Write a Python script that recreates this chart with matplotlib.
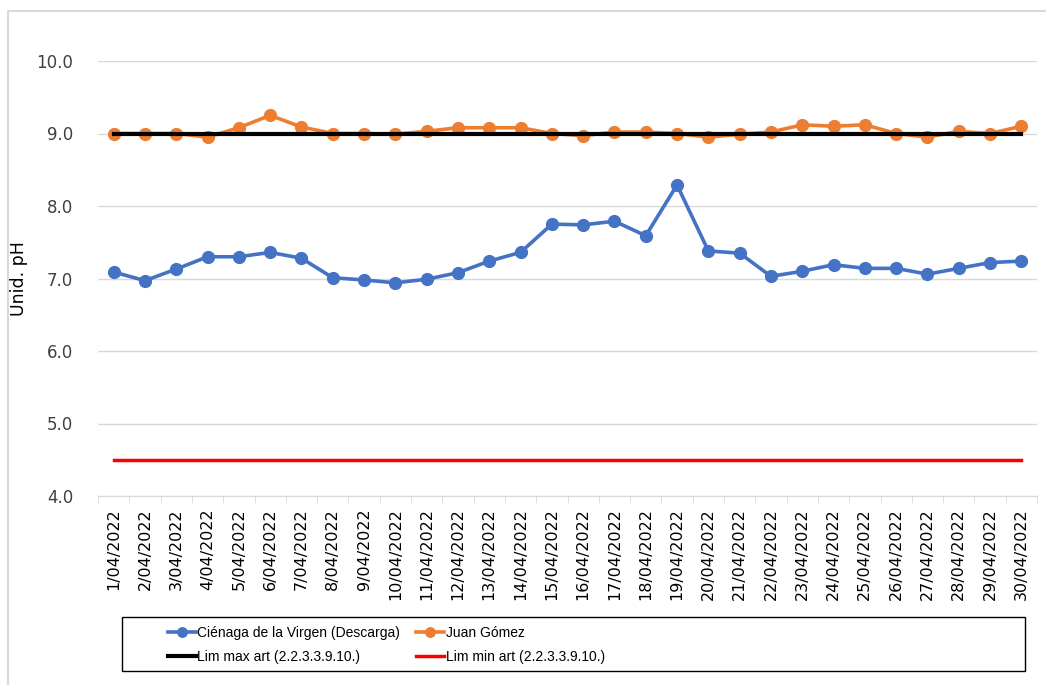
import matplotlib
matplotlib.use("Agg")
import matplotlib.pyplot as plt
from matplotlib.patches import Rectangle

plt.rcParams["font.family"] = ["DejaVu Sans"]

# daily pH readings, April 2022
dates = [f"{d}/04/2022" for d in range(1, 31)]
cienaga = [7.09, 6.97, 7.13, 7.30, 7.30, 7.36, 7.28, 7.01, 6.98, 6.94,
           6.99, 7.08, 7.24, 7.36, 7.75, 7.74, 7.79, 7.59, 8.29, 7.38,
           7.35, 7.03, 7.10, 7.19, 7.14, 7.14, 7.06, 7.14, 7.22, 7.24]
juan_gomez = [9.00, 9.00, 9.00, 8.95, 9.08, 9.25, 9.09, 9.00, 9.00, 8.99,
              9.03, 9.08, 9.08, 9.08, 9.00, 8.97, 9.02, 9.02, 9.00, 8.95,
              8.99, 9.02, 9.12, 9.10, 9.12, 9.00, 8.95, 9.03, 9.00, 9.10]
lim_max = [9.0] * 30
lim_min = [4.5] * 30

W, H = 1046, 685
fig = plt.figure(figsize=(W / 100, H / 100), dpi=100)

# outer chart frame
fig.patches.append(Rectangle((8 / W, -0.05), 1.1, 1 - 11 / H + 0.05,
                             transform=fig.transFigure, fill=False,
                             edgecolor="#d9d9d9", linewidth=1.5))

ax = fig.add_axes([98 / W, 1 - 496 / H, (1037 - 98) / W, (496 - 61) / H])

x = list(range(len(dates)))
l1, = ax.plot(x, cienaga, color="#4472C4", lw=2.6, marker="o", ms=8.5,
              label="Ciénaga de la Virgen (Descarga)", zorder=3)
l2, = ax.plot(x, juan_gomez, color="#ED7D31", lw=2.6, marker="o", ms=8.5,
              label="Juan Gómez", zorder=3)
l3, = ax.plot(x, lim_max, color="black", lw=3, label="Lim max art (2.2.3.3.9.10.)", zorder=4)
l4, = ax.plot(x, lim_min, color="#FF0000", lw=2.5, label="Lim min art (2.2.3.3.9.10.)", zorder=4)

ax.set_xlim(-0.5, len(dates) - 0.5)
ax.set_ylim(4.0, 10.0)
ax.set_yticks([4, 5, 6, 7, 8, 9, 10])
ax.set_yticklabels([f"{v:.1f}" for v in [4, 5, 6, 7, 8, 9, 10]], fontsize=12, color="#404040")
ax.yaxis.grid(True, color="#d9d9d9", lw=1)
ax.set_axisbelow(True)

ax.set_xticks(x)
ax.set_xticklabels(dates, rotation=90, fontsize=11.5)
ax.tick_params(axis="x", length=0, pad=9)
ax.set_xticks([i - 0.5 for i in range(len(dates) + 1)], minor=True)
ax.tick_params(axis="x", which="minor", length=5, color="#d9d9d9")
ax.tick_params(axis="y", length=0, pad=18)

for side in ["top", "right", "left"]:
    ax.spines[side].set_visible(False)
ax.spines["bottom"].set_color("#d9d9d9")

ax.set_ylabel("Unid. pH", fontsize=12.5)
ax.yaxis.set_label_coords(-0.075, 0.5)

# legend with its own box, filled row by row
fig.patches.append(Rectangle((122 / W, 1 - 671 / H), (1025 - 122) / W, (671 - 617) / H,
                             transform=fig.transFigure, fill=False,
                             edgecolor="black", linewidth=1))
fig.legend([l1, l3, l2, l4], [l1.get_label(), l3.get_label(), l2.get_label(), l4.get_label()],
           ncol=2, frameon=False,
           prop={"family": "Liberation Sans", "size": 10},
           loc="upper left", bbox_to_anchor=(158 / W, 1 - 616 / H),
           handlelength=2.0, handletextpad=0.1, columnspacing=1.2,
           labelspacing=0.75, markerscale=0.8, borderpad=0.2)

fig.savefig("out.png", dpi=100)
